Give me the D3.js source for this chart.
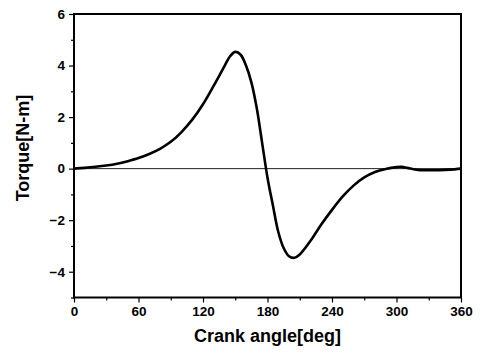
<!DOCTYPE html>
<html>
<head>
<meta charset="utf-8">
<script src="https://cdn.jsdelivr.net/npm/d3@7"></script>
<style>
  html, body { margin: 0; padding: 0; background: #fff; }
  svg { display: block; }
  text { font-family: "Liberation Sans", Arial, sans-serif; font-weight: bold; fill: #000; }
</style>
</head>
<body>
<script>
// Data: crank angle [deg] vs torque [N-m]
const angles = [0, 10, 20, 30, 40, 50, 60, 70, 80, 90, 100, 110, 120, 130, 140, 145, 150, 155, 160, 165, 170, 175, 180, 185, 190, 195, 200, 205, 210, 220, 230, 240, 250, 260, 270, 280, 290, 300, 305, 310, 320, 330, 340, 350, 360];
const torque = [0, 0.03, 0.07, 0.12, 0.19, 0.29, 0.41, 0.57, 0.77, 1.04, 1.42, 1.9, 2.5, 3.22, 3.98, 4.35, 4.53, 4.42, 4.0, 3.35, 2.35, 1.0, -0.35, -1.42, -2.45, -3.08, -3.4, -3.46, -3.33, -2.8, -2.17, -1.6, -1.08, -0.66, -0.34, -0.13, -0.01, 0.06, 0.07, 0.03, -0.05, -0.06, -0.06, -0.04, 0];
const xTicks = [0, 60, 120, 180, 240, 300, 360];
const xMinorTicks = [30, 90, 150, 210, 270, 330];
const yTicks = [-4, -2, 0, 2, 4, 6];
const yMinorTicks = [-5, -3, -1, 1, 3, 5];
const xTitle = "Crank angle[deg]";
const yTitle = "Torque[N-m]";

const W = 481, H = 355;
const m = { left: 74, right: 20, top: 14, bottom: 57.5 };

const svg = d3.select("body").append("svg").attr("width", W).attr("height", H);

const x = d3.scaleLinear().domain([0, 360]).range([m.left, W - m.right]);
const y = d3.scaleLinear().domain([-5, 6]).range([H - m.bottom, m.top]);

// zero reference line
svg.append("line")
  .attr("x1", x(0)).attr("x2", x(360))
  .attr("y1", y(0)).attr("y2", y(0))
  .attr("stroke", "#222").attr("stroke-width", 1);

// curve
const line = d3.line().x((d, i) => x(angles[i])).y(d => y(d)).curve(d3.curveCatmullRom.alpha(0.5));
svg.append("path")
  .datum(torque)
  .attr("d", line)
  .attr("fill", "none")
  .attr("stroke", "#000")
  .attr("stroke-width", 2.6)
  .attr("stroke-linejoin", "round");

// axes
const xAxis = d3.axisBottom(x).tickValues(xTicks).tickSize(5).tickPadding(4).tickFormat(d3.format("d"));
const xMinor = d3.axisBottom(x).tickValues(xMinorTicks).tickSize(3).tickFormat("");
const yAxis = d3.axisLeft(y).tickValues(yTicks).tickSize(5).tickPadding(4).tickFormat(d3.format("d"));
const yMinor = d3.axisLeft(y).tickValues(yMinorTicks).tickSize(3).tickFormat("");

function style(g) {
  g.select(".domain").remove();
  g.selectAll(".tick line").attr("stroke", "#000").attr("stroke-width", 1.2);
  g.selectAll(".tick text").style("font-size", "13.5px").style("font-family", "'Liberation Sans', Arial, sans-serif").style("font-weight", "bold").attr("fill", "#000");
}

svg.append("g").attr("transform", `translate(0,${y(-5)})`).call(xAxis).call(style);
svg.append("g").attr("transform", `translate(0,${y(-5)})`).call(xMinor).call(style);
svg.append("g").attr("transform", `translate(${x(0)},0)`).call(yAxis).call(style);
svg.append("g").attr("transform", `translate(${x(0)},0)`).call(yMinor).call(style);

// frame
svg.append("rect")
  .attr("x", x(0)).attr("y", y(6))
  .attr("width", x(360) - x(0)).attr("height", y(-5) - y(6))
  .attr("fill", "none").attr("stroke", "#000").attr("stroke-width", 2);

// titles
svg.append("text")
  .attr("x", (x(0) + x(360)) / 2).attr("y", 341.5)
  .attr("text-anchor", "middle")
  .style("font-size", "18px")
  .text(xTitle);

svg.append("text")
  .attr("transform", `translate(29,148) rotate(-90)`)
  .attr("text-anchor", "middle")
  .style("font-size", "18px")
  .text(yTitle);
</script>
</body>
</html>
